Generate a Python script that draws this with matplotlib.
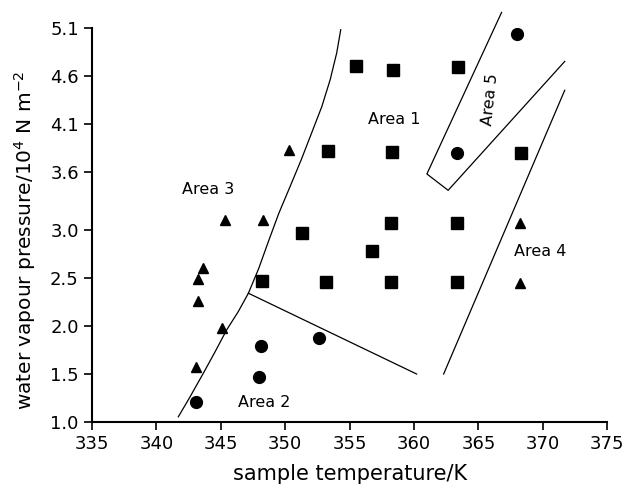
import numpy as np
from matplotlib import pyplot as plt

# measured points (sample temperature / K, water vapour pressure / 1e4 N m^-2)
sq_x = [355.5, 358.4, 363.4, 353.3, 358.3, 368.3, 358.2, 363.3, 351.3, 356.7, 353.2, 358.2, 363.3, 348.2]
sq_y = [4.70, 4.66, 4.69, 3.82, 3.81, 3.80, 3.07, 3.07, 2.97, 2.78, 2.46, 2.46, 2.46, 2.47]

tri_x = [350.3, 345.3, 348.3, 368.2, 368.2, 343.6, 343.2, 343.2, 345.1, 343.1]
tri_y = [3.83, 3.10, 3.10, 3.07, 2.45, 2.60, 2.49, 2.26, 1.98, 1.57]

circ_x = [368.0, 363.3, 348.1, 348.0, 352.6, 343.1]
circ_y = [5.04, 3.80, 1.79, 1.47, 1.875, 1.21]

# boundary lines
b13_x = [341.7, 342.6, 343.65, 344.55, 345.46, 346.36, 347.14, 347.95, 348.7, 349.5,
         350.38, 351.25, 352.06, 352.84, 353.49, 354.0, 354.31]
b13_y = [1.055, 1.26, 1.51, 1.73, 1.96, 2.15, 2.34, 2.60, 2.88, 3.17,
         3.45, 3.73, 4.01, 4.28, 4.56, 4.84, 5.08]
b2_x = [347.14, 360.2]
b2_y = [2.34, 1.50]
b4_x = [362.3, 371.7]
b4_y = [1.50, 4.45]
b5_x = [366.8, 361.0, 362.65, 371.7]
b5_y = [5.26, 3.58, 3.41, 4.75]

yticks = [1.0, 1.5, 2.0, 2.5, 3.0, 3.6, 4.1, 4.6, 5.1]
xticks = [335, 340, 345, 350, 355, 360, 365, 370, 375]

fig = plt.figure(figsize=(6.26, 4.96), dpi=100)
ax = fig.add_axes([0.147, 0.149, 0.823, 0.795])

for bx, by in [(b13_x, b13_y), (b2_x, b2_y), (b4_x, b4_y), (b5_x, b5_y)]:
    ax.plot(bx, by, color='black', lw=0.9, clip_on=False)

ax.plot(sq_x, sq_y, 's', color='black', ms=8.5, ls='none')
ax.plot(tri_x, tri_y, '^', color='black', ms=7.5, ls='none')
ax.plot(circ_x, circ_y, 'o', color='black', ms=8.5, ls='none')

fs_area = 11.5
ax.text(358.5, 4.15, 'Area 1', fontsize=fs_area, ha='center', va='center')
ax.text(348.4, 1.20, 'Area 2', fontsize=fs_area, ha='center', va='center')
ax.text(344.0, 3.42, 'Area 3', fontsize=fs_area, ha='center', va='center')
ax.text(369.8, 2.77, 'Area 4', fontsize=fs_area, ha='center', va='center')
ax.text(365.9, 4.35, 'Area 5', fontsize=fs_area, ha='center', va='center', rotation=84)

ax.set_xlim(335, 375)
ax.set_ylim(1.0, 5.1)
ax.set_xticks(xticks)
ax.set_yticks(yticks)
ax.set_yticklabels([format(v, '0.1f') for v in yticks])
ax.tick_params(labelsize=13, length=6, width=1.2, direction='out')
ax.spines['top'].set_visible(False)
ax.spines['right'].set_visible(False)
ax.spines['left'].set_linewidth(1.5)
ax.spines['bottom'].set_linewidth(1.5)
ax.set_xlabel('sample temperature/K', fontsize=15, labelpad=8)
ax.set_ylabel(r'water vapour pressure/10$^4$ N m$^{-2}$', fontsize=14.5)
ax.yaxis.set_label_coords(-0.105, 0.46)

plt.savefig('out.png', dpi=100)
